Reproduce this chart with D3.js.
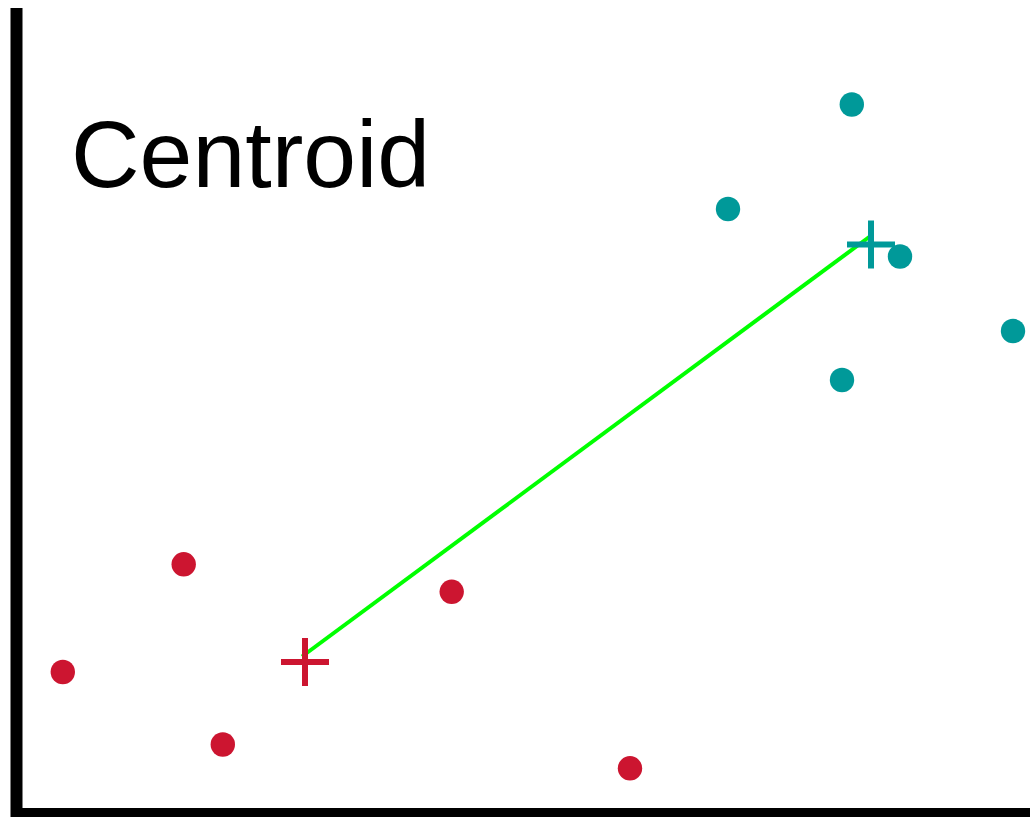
<!DOCTYPE html>
<html>
<head>
<meta charset="utf-8">
<script src="https://cdn.jsdelivr.net/npm/d3@7"></script>
<style>
  html, body { margin: 0; padding: 0; background: #fff; }
  svg { display: block; }
</style>
</head>
<body>
<svg id="chart" width="1030" height="817"></svg>
<script>
// ---- data (arbitrary data units) ----
const redX = [4.58, 16.67, 20.58, 43.47, 61.3];
const redY = [14.0, 24.77, 6.75, 22.02, 4.37];
const tealX = [83.48, 71.1, 88.3, 99.6, 82.5];
const tealY = [70.75, 60.3, 55.55, 48.1, 43.2];
const centroidX = [28.8, 85.4];
const centroidY = [15.0, 56.75];
const centroidGroup = ["red", "teal"];
const linkX = [28.5, 85.35];
const linkY = [15.55, 57.6];
const titleText = "Centroid";

const colors = { red: "#CC1530", teal: "#009999" };

const svg = d3.select("#chart");
const x = d3.scaleLinear().domain([0, 100]).range([17, 1017]);
const y = d3.scaleLinear().domain([0, 80]).range([812, 12]);

// axes (plain thick lines)
svg.append("line")
  .attr("x1", 16.5).attr("x2", 16.5)
  .attr("y1", 8).attr("y2", 817)
  .attr("stroke", "#000").attr("stroke-width", 12);
svg.append("line")
  .attr("x1", 11).attr("x2", 1030)
  .attr("y1", 812.5).attr("y2", 812.5)
  .attr("stroke", "#000").attr("stroke-width", 9);

// title
svg.append("text")
  .attr("x", 71).attr("y", 187)
  .attr("font-family", "Liberation Sans, Arial, sans-serif")
  .attr("font-size", 95)
  .attr("fill", "#000")
  .text(titleText);

// link line between centroids
svg.append("line")
  .attr("x1", x(linkX[0])).attr("y1", y(linkY[0]))
  .attr("x2", x(linkX[1])).attr("y2", y(linkY[1]))
  .attr("stroke", "#00FF00").attr("stroke-width", 4);

// points
const red = redX.map((d, i) => ({ x: d, y: redY[i] }));
const teal = tealX.map((d, i) => ({ x: d, y: tealY[i] }));
svg.append("g").selectAll("circle").data(red).join("circle")
  .attr("cx", d => x(d.x)).attr("cy", d => y(d.y)).attr("r", 12.2)
  .attr("fill", colors.red);
svg.append("g").selectAll("circle").data(teal).join("circle")
  .attr("cx", d => x(d.x)).attr("cy", d => y(d.y)).attr("r", 12.2)
  .attr("fill", colors.teal);

// centroid plus markers
const arm = 24;
const cents = centroidX.map((d, i) => ({ x: d, y: centroidY[i], g: centroidGroup[i] }));
const cg = svg.append("g").selectAll("g").data(cents).join("g")
  .attr("transform", d => `translate(${x(d.x)},${y(d.y)})`);
cg.append("line").attr("x1", -arm).attr("x2", arm).attr("y1", 0).attr("y2", 0)
  .attr("stroke", d => colors[d.g]).attr("stroke-width", 6);
cg.append("line").attr("x1", 0).attr("x2", 0).attr("y1", -arm).attr("y2", arm)
  .attr("stroke", d => colors[d.g]).attr("stroke-width", 6);
</script>
</body>
</html>
